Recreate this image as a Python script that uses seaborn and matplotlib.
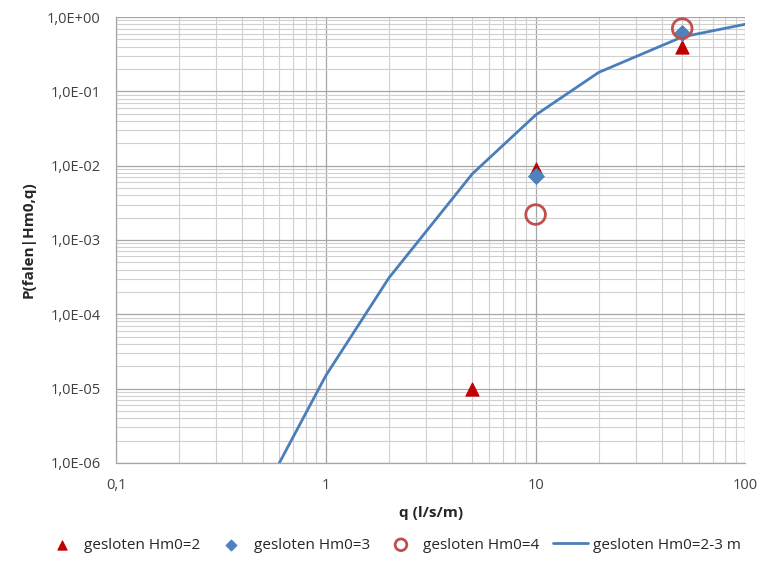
import numpy as np
import pandas as pd
import seaborn as sns
import matplotlib.pyplot as plt
from matplotlib.ticker import FuncFormatter, LogLocator, NullFormatter

# data
q_line = [0.6, 1, 2, 5, 10, 20, 50, 100]
p_line = [1.0e-6, 1.5e-5, 3.1e-4, 7.8e-3, 4.8e-2, 1.8e-1, 5.4e-1, 8.0e-1]

q_hm2 = [5, 10, 50]
p_hm2 = [1.0e-5, 9.0e-3, 3.9e-1]
q_hm3 = [10, 50]
p_hm3 = [7.2e-3, 6.1e-1]
q_hm4 = [10, 50]
p_hm4 = [2.2e-3, 7.0e-1]

x_ticks = [0.1, 1, 10, 100]
x_labels = ['0,1', '1', '10', '100']

sns.set_theme(style="whitegrid")
plt.rcParams['font.family'] = ['Open Sans', 'DejaVu Sans']

fig = plt.figure(figsize=(7.59, 5.68), dpi=100)
ax = fig.add_axes([0.153, 0.185, 0.829, 0.785])

line_df = pd.DataFrame({'q': q_line, 'p': p_line})
sns.lineplot(data=line_df, x='q', y='p', ax=ax, color='#4A7EBB', linewidth=2,
             label='gesloten Hm0=2-3 m', zorder=3)

sns.scatterplot(x=q_hm2, y=p_hm2, ax=ax, marker='^', s=90, color='#C00000',
                edgecolor='#C00000', label='gesloten Hm0=2', zorder=4)
sns.scatterplot(x=q_hm3, y=p_hm3, ax=ax, marker='D', s=65, color='#4F81BD',
                edgecolor='#4F81BD', label='gesloten Hm0=3', zorder=5)
sns.scatterplot(x=q_hm4, y=p_hm4, ax=ax, marker='o', s=200, facecolor='none',
                edgecolor='#C0504D', linewidth=2, label='gesloten Hm0=4', zorder=6)

ax.set_xscale('log')
ax.set_yscale('log')
ax.set_xlim(0.1, 100)
ax.set_ylim(1e-6, 1)

ax.set_xticks(x_ticks)
ax.set_xticklabels(x_labels)
ax.xaxis.set_minor_locator(LogLocator(base=10, subs=np.arange(2, 10)))
ax.xaxis.set_minor_formatter(NullFormatter())
ax.yaxis.set_major_locator(LogLocator(base=10, numticks=10))
ax.yaxis.set_minor_locator(LogLocator(base=10, subs=np.arange(2, 10), numticks=10))
ax.yaxis.set_minor_formatter(NullFormatter())


def sci_comma(v, pos):
    # Excel style: 1,0E-03
    mant, exp = ('%.1E' % v).split('E')
    return mant.replace('.', ',') + 'E' + exp[0] + exp[1:].zfill(2)


ax.yaxis.set_major_formatter(FuncFormatter(sci_comma))

ax.grid(which='major', color='#A6A6A6', linewidth=0.9)
ax.grid(which='minor', color='#D0D0D0', linewidth=0.8)
ax.set_facecolor('white')
for side in ['top', 'right']:
    ax.spines[side].set_visible(False)
for side in ['left', 'bottom']:
    ax.spines[side].set_color('#A6A6A6')
    ax.spines[side].set_linewidth(0.9)

ax.tick_params(axis='both', which='major', labelsize=10.5, colors='#404040', length=0, pad=11)
ax.tick_params(axis='both', which='minor', length=0)
ax.set_xlabel('q (l/s/m)', fontsize=11, fontweight='bold', labelpad=9)
ax.set_ylabel('P(falen|Hm0,q)', fontsize=11, fontweight='bold', labelpad=8)

handles, labels = ax.get_legend_handles_labels()
order = [labels.index(l) for l in ['gesloten Hm0=2', 'gesloten Hm0=3',
                                    'gesloten Hm0=4', 'gesloten Hm0=2-3 m']]
leg = ax.legend([handles[i] for i in order], [labels[i] for i in order],
                loc='center', bbox_to_anchor=(0.517, 0.04), bbox_transform=fig.transFigure,
                ncol=4, frameon=False, fontsize=11, handlelength=2.3, columnspacing=0.9,
                handletextpad=0.3, markerscale=0.7, borderpad=0, borderaxespad=0)
# legend circle a bit smaller, like the reference
leg.legend_handles[2].set_sizes([70])

fig.savefig('out.png', dpi=100)
